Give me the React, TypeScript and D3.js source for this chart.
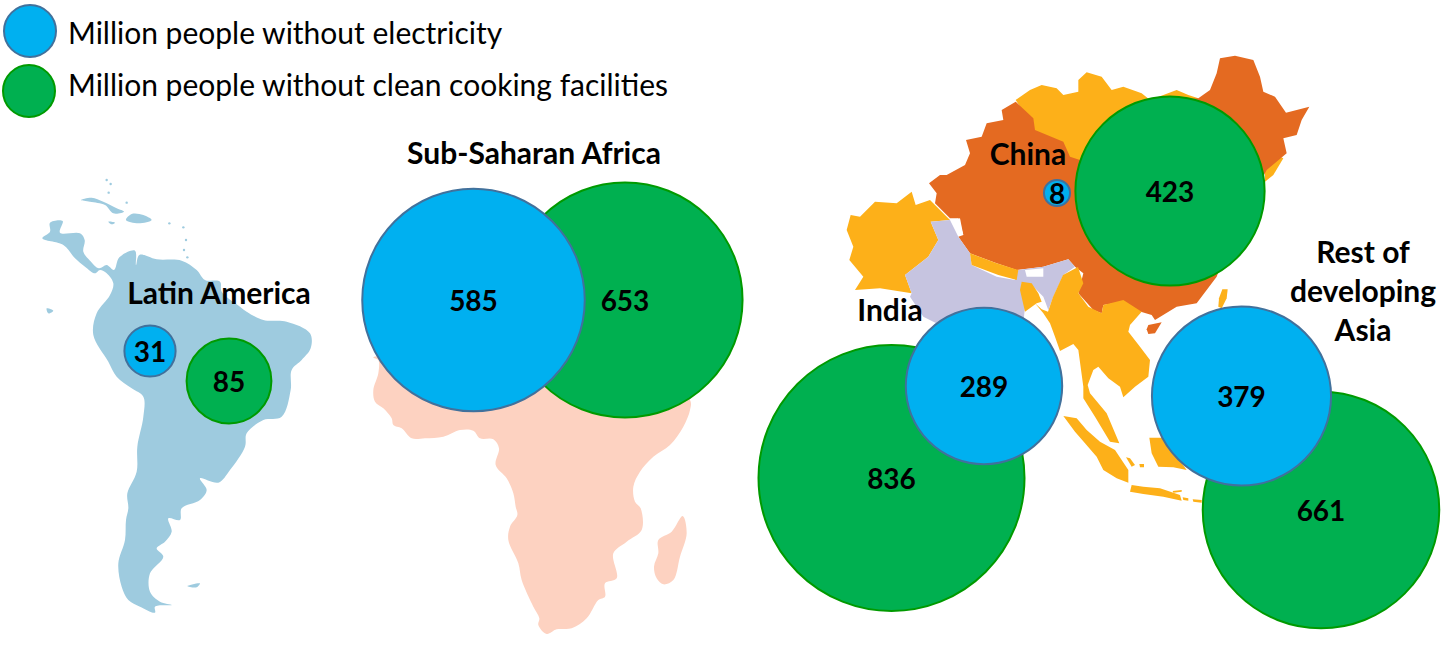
import React from "react";
import * as d3 from "d3";

// values, million people
const regions = ["Latin America", "Sub-Saharan Africa", "China", "India", "Rest of developing Asia"];
const electricity = [31, 585, 8, 289, 379];
const cooking = [85, 653, 423, 836, 661];
const legendLabels = ["Million people without electricity", "Million people without clean cooking facilities"];

// bubble layout on the page
const electricityCentres = [[150, 351], [473.5, 300], [1057, 193], [984, 386], [1241.5, 396]];
const cookingCentres = [[229, 381], [625, 300], [1170, 191], [891.5, 478], [1321, 510]];

const titleLines = [["Latin America"], ["Sub-Saharan Africa"], ["China"], ["India"], ["Rest of", "developing", "Asia"]];
const titlePos = [[219, 304], [534, 164], [1028, 165], [890, 321], [1363, 263]];

const BLUE = "#00B0F0";
const BLUE_EDGE = "#41719C";
const GREEN = "#00B050";
const GREEN_EDGE = "#009A00";
const FONT = "Lato, 'Open Sans', sans-serif";

type Pt = number[];

// map outlines, traced in the coordinates of a 3x crop
const latinLand: Pt[] = [[127,205],[150,185],[150,158],[188,153],[180,188],[240,190],[254,210],[250,245],[270,272],[297,295],[320,285],[342,300],[358,262],[405,242],[408,285],[418,255],[470,268],[545,272],[590,300],[615,330],[660,335],[665,365],[720,410],[740,425],[790,450],[860,455],[930,490],[932,535],[905,570],[875,600],[872,660],[845,740],[790,750],[740,790],[735,830],[690,900],[655,938],[600,925],[620,960],[600,990],[545,1015],[540,1050],[505,1045],[515,1085],[495,1115],[470,1135],[490,1160],[450,1210],[450,1265],[480,1295],[515,1305],[465,1310],[465,1328],[420,1310],[385,1290],[365,1250],[355,1180],[375,1110],[378,1050],[385,1015],[382,970],[410,905],[412,830],[430,740],[430,680],[395,655],[350,620],[325,575],[280,495],[290,430],[330,375],[340,340],[320,310],[300,300],[285,310],[255,290],[225,265],[190,225]];
const cuba: Pt[] = [[243,90],[275,83],[310,95],[350,115],[372,125],[340,130],[315,105],[270,95]];
const hispaniola: Pt[] = [[378,150],[395,132],[430,135],[455,150],[415,160]];
const jamaica: Pt[] = [[325,155],[345,158],[335,163]];
const falklands: Pt[] = [[562,1248],[600,1240],[590,1252]];
const galapagos: Pt[] = [[140,415],[160,422],[145,430]];
const antilles: Pt[] = [[320,30],[332,42],[326,68],[380,98],[508,160],[550,172],[558,210],[552,240],[562,262]];

const africaLand: Pt[] = [[70,52],[85,60],[85,100],[70,150],[75,185],[100,205],[125,235],[130,255],[155,265],[185,295],[225,295],[280,290],[330,270],[370,272],[390,295],[430,298],[447,325],[437,375],[470,415],[490,460],[497,500],[502,525],[480,560],[475,600],[505,670],[515,720],[550,800],[568,835],[565,855],[590,882],[620,868],[665,865],[710,835],[745,780],[765,770],[765,730],[800,715],[790,640],[830,605],[875,570],[872,505],[855,485],[850,440],[870,395],[910,350],[960,315],[1000,260],[1020,210],[1020,180],[900,100],[400,50]];
const madagascar: Pt[] = [[998,528],[1010,580],[990,650],[970,720],[940,733],[920,715],[912,680],[925,640],[925,600],[965,575]];

const china: Pt[] = [[557,185],[515,210],[520,240],[470,250],[455,290],[408,300],[420,340],[405,375],[350,405],[330,405],[297,430],[320,460],[315,490],[360,535],[385,535],[400,585],[385,590],[420,640],[500,670],[560,690],[640,680],[715,658],[735,680],[760,700],[745,760],[790,810],[815,820],[820,795],[880,785],[915,810],[965,825],[975,840],[1040,800],[1100,790],[1160,710],[1200,600],[1310,390],[1370,340],[1360,295],[1400,285],[1415,240],[1438,200],[1368,218],[1335,170],[1300,155],[1290,110],[1270,60],[1215,47],[1170,55],[1160,100],[1140,150],[1105,175],[1000,180],[750,360],[720,350],[700,305],[615,270],[610,235]];
const mongolia: Pt[] = [[557,180],[600,150],[635,135],[680,145],[700,165],[745,155],[745,120],[770,97],[815,110],[845,150],[880,140],[935,160],[960,180],[1040,150],[1075,165],[1105,175],[1000,300],[750,370],[700,350],[600,290],[590,230]];
const korea: Pt[] = [[1350,350],[1360,355],[1330,405],[1305,425],[1305,380]];
const pakistan: Pt[] = [[62,525],[90,530],[135,485],[200,490],[245,455],[257,495],[300,480],[360,540],[302,545],[325,600],[295,650],[225,705],[245,760],[150,745],[75,750],[100,710],[58,660],[70,620],[50,570]];
const india: Pt[] = [[302,545],[360,540],[385,590],[420,640],[425,675],[500,710],[555,720],[565,690],[640,680],[715,658],[735,680],[700,705],[670,770],[655,810],[640,770],[600,730],[575,730],[585,800],[580,850],[460,1000],[340,860],[280,830],[240,770],[245,760],[225,705],[295,650],[325,600]];
const nepal: Pt[] = [[420,640],[500,670],[565,690],[560,720],[505,705],[425,675]];
const bhutan: Pt[] = [[585,690],[640,685],[640,710],[590,710]];
const kashmirGap: Pt[] = [[365,540],[390,535],[400,585]];

const mainlandSea: Pt[] = [[45,100],[65,118],[84,125],[99,81],[129,15],[174,-9],[190,40],[175,70],[205,110],[245,130],[250,105],[310,90],[365,125],[330,165],[325,185],[360,230],[390,270],[385,320],[345,350],[310,382],[300,350],[265,325],[235,290],[220,300],[203,345],[210,370],[260,430],[298,520],[270,515],[225,440],[190,385],[190,350],[175,240],[160,222],[120,243],[105,200],[90,160],[70,130]];
const bangladesh: Pt[] = [[5,35],[35,40],[55,70],[65,95],[50,100],[15,125],[0,60]];
const sumatra: Pt[] = [[130,438],[170,445],[200,480],[240,515],[285,540],[325,600],[325,638],[290,625],[250,600],[230,560],[195,520],[165,485]];
const java: Pt[] = [[335,645],[370,650],[420,655],[480,675],[485,692],[430,680],[370,672],[330,665]];
const bali: Pt[] = [[488,682],[505,685],[505,692],[490,690]];
const madura: Pt[] = [[458,663],[485,660],[485,665],[460,668]];
const lombok: Pt[] = [[518,688],[545,690],[545,698],[520,695]];
const bangka: Pt[] = [[318,562],[330,565],[345,585],[335,590]];
const belitung: Pt[] = [[358,582],[372,582],[372,592],[360,592]];
const borneo: Pt[] = [[388,503],[430,503],[500,600],[460,592],[415,590],[395,550]];
const hainan: Pt[] = [[385,165],[425,157],[405,190],[385,192],[380,178]];
const taiwan: Pt[] = [[607,58],[623,58],[620,85],[605,115],[595,110],[597,85]];

// a crop scale turns traced coordinates back into page pixels
const cropLine = (ox: number, oy: number, curve: d3.CurveFactory) => {
    const x = d3.scaleLinear().domain([0, 3]).range([ox, ox + 1]);
    const y = d3.scaleLinear().domain([0, 3]).range([oy, oy + 1]);
    return d3.line<Pt>().x(p => x(p[0])).y(p => y(p[1])).curve(curve);
};
const smooth = d3.curveCatmullRomClosed.alpha(0.5);
const latinPath = cropLine(0, 170, smooth);
const africaPath = cropLine(350, 340, smooth);
const northAsiaPath = cropLine(830, 40, d3.curveLinearClosed);
const southAsiaPath = cropLine(1020, 270, d3.curveLinearClosed);

const radius = d3.scaleSqrt().domain([0, 836]).range([0, 133]);

const Bubble = ({value, c, fill, edge}: {value: number, c: number[], fill: string, edge: string}) => (
    <g>
        <circle cx={c[0]} cy={c[1]} r={radius(value)} fill={fill} stroke={edge} strokeWidth={2} />
        <text x={c[0]} y={c[1] + 11} textAnchor="middle" fontSize={28} fontWeight={700} fill="#000" fontFamily={FONT}>{value}</text>
    </g>
);

export default function App() {
    const yellow = "#FDB019";
    const orange = "#E46A21";
    return (
        <svg width={1451} height={652} style={{position: "absolute", left: 0, top: 0, background: "#fff"}}>
            <g fill="#9ECBDF">
                {[latinLand, cuba, hispaniola, jamaica, falklands, galapagos].map((p, i) => <path key={i} d={latinPath(p) as string} />)}
                {antilles.map((p, i) => <circle key={i} cx={p[0] / 3} cy={170 + p[1] / 3} r={1.2} />)}
            </g>
            <g fill="#FDD2C1">
                {[africaLand, madagascar].map((p, i) => <path key={i} d={africaPath(p) as string} />)}
            </g>
            <g>
                <path d={northAsiaPath(pakistan) as string} fill={yellow} />
                <path d={northAsiaPath(mongolia) as string} fill={yellow} />
                <path d={northAsiaPath(korea) as string} fill={yellow} />
                <path d={northAsiaPath(china) as string} fill={orange} />
                <path d={northAsiaPath(india) as string} fill="#C6C4E0" />
                <path d={northAsiaPath(nepal) as string} fill={yellow} />
                <path d={northAsiaPath(bhutan) as string} fill="#fff" />
                <path d={northAsiaPath(kashmirGap) as string} fill="#fff" />
                {[mainlandSea, bangladesh, sumatra, java, bali, madura, lombok, bangka, belitung, borneo, taiwan].map((p, i) => (
                    <path key={i} d={southAsiaPath(p) as string} fill={yellow} />
                ))}
                <path d={southAsiaPath(hainan) as string} fill={orange} />
            </g>

            {regions.map((r, i) => (
                <g key={r}>
                    <Bubble value={cooking[i]} c={cookingCentres[i]} fill={GREEN} edge={GREEN_EDGE} />
                    <Bubble value={electricity[i]} c={electricityCentres[i]} fill={BLUE} edge={BLUE_EDGE} />
                </g>
            ))}

            {regions.map((r, i) => (
                <text key={r} textAnchor="middle" fontSize={30} fontWeight={700} fill="#000" fontFamily={FONT}>
                    {titleLines[i].map((line, j) => (
                        <tspan key={j} x={titlePos[i][0]} y={titlePos[i][1] + j * 39}>{line}</tspan>
                    ))}
                </text>
            ))}

            {legendLabels.map((label, i) => (
                <g key={label}>
                    <circle cx={30 - i} cy={31 + i * 60} r={26} fill={i === 0 ? BLUE : GREEN} stroke={i === 0 ? BLUE_EDGE : GREEN_EDGE} strokeWidth={2} />
                    <text x={68} y={44 + i * 52} fontSize={30} fill="#000" fontFamily={FONT}>{label}</text>
                </g>
            ))}
        </svg>
    );
}
